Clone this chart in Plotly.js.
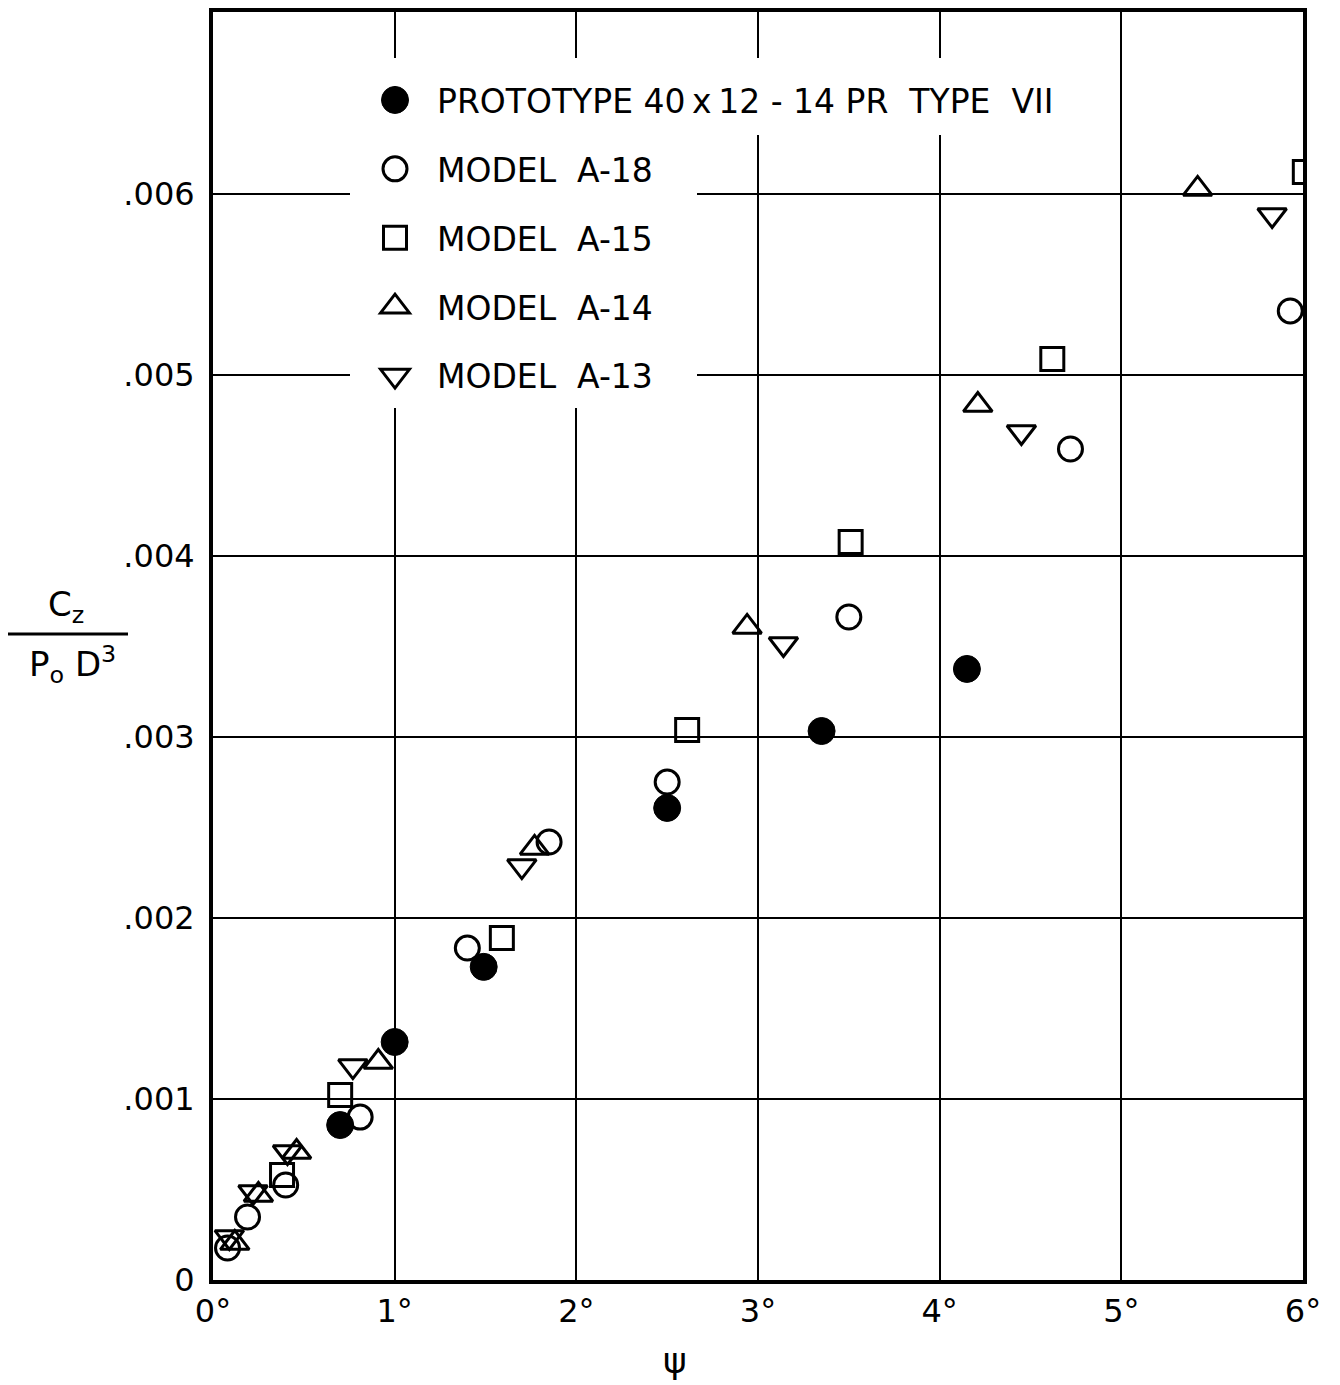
<!DOCTYPE html>
<html>
<head>
<meta charset="utf-8">
<script src="https://cdn.plot.ly/plotly-3.0.1.min.js"></script>
<style>html,body{margin:0;padding:0;background:#fff;}#chart{width:1340px;height:1385px;}</style>
</head>
<body>
<div id="chart"></div>
<script>
// ψ (degrees) and Cz/(Po D^3)
var protoX = [0.70, 1.00, 1.49, 2.50, 3.35, 4.15];
var protoY = [0.000856, 0.001315, 0.001730, 0.002608, 0.003033, 0.003376];

var a18X = [0.08, 0.19, 0.40, 0.81, 1.40, 1.85, 2.50, 3.50, 4.72, 5.93];
var a18Y = [0.000177, 0.000348, 0.000525, 0.000900, 0.001834, 0.002420, 0.002751, 0.003663, 0.004591, 0.005354];

var a15X = [0.38, 0.70, 1.59, 2.61, 3.51, 4.62, 6.01];
var a15Y = [0.000580, 0.001022, 0.001890, 0.003039, 0.004077, 0.005088, 0.006122];

var a14X = [0.12, 0.25, 0.46, 0.91, 1.77, 2.94, 4.21, 5.42];
var a14Y = [0.000204, 0.000470, 0.000707, 0.001204, 0.002387, 0.003608, 0.004834, 0.006028];

var a13X = [0.09, 0.22, 0.41, 0.77, 1.70, 3.14, 4.45, 5.83];
var a13Y = [0.000238, 0.000486, 0.000707, 0.001182, 0.002287, 0.003514, 0.004685, 0.005884];

var seriesNames = ['PROTOTYPE 40\u2009x\u200912 - 14 PR  TYPE  VII', 'MODEL  A-18', 'MODEL  A-15', 'MODEL  A-14', 'MODEL  A-13'];

var xTickVals = [0, 1, 2, 3, 4, 5, 6];
var xTickText = ['0\u00b0', '1\u00b0', '2\u00b0', '3\u00b0', '4\u00b0', '5\u00b0', '6\u00b0'];
var yTickVals = [0, 0.001, 0.002, 0.003, 0.004, 0.005, 0.006];
var yTickText = ['0', '.001', '.002', '.003', '.004', '.005', '.006'];

var FONT = 'DejaVu Sans, Liberation Sans, sans-serif';

function openTrace(x, y, name, symbol, size, group) {
  return {
    type: 'scatter', mode: 'markers', x: x, y: y, name: name, legendgroup: group,
    marker: {symbol: symbol, size: size, color: '#000', line: {color: '#000', width: 3}},
    hoverinfo: 'x+y+name'
  };
}

var traces = [
  {type: 'scatter', mode: 'markers', x: protoX, y: protoY, name: seriesNames[0], legendgroup: 'g0',
   marker: {symbol: 'circle', size: 27, color: '#000', line: {color: '#000', width: 1}}},
  openTrace(a18X, a18Y, seriesNames[1], 'circle-open', 24, 'g1'),
  openTrace(a15X, a15Y, seriesNames[2], 'square-open', 23, 'g2'),
  openTrace(a14X, a14Y, seriesNames[3], 'triangle-up-open', 25, 'g3'),
  openTrace(a13X, a13Y, seriesNames[4], 'triangle-down-open', 25, 'g4')
];

var L = 213, R = 1303, T = 12, B = 1280, W = 1340, H = 1385;
function px(x){ return (x - L) / (R - L); }
function py(y){ return (B - y) / (B - T); }

var layout = {
  width: W, height: H,
  margin: {l: L, r: W - R, t: T, b: H - B, pad: 0},
  paper_bgcolor: '#fff', plot_bgcolor: '#fff',
  font: {family: FONT, color: '#000', size: 33},
  showlegend: true,
  legend: {
    x: px(353), y: py(72), xanchor: 'left', yanchor: 'top',
    bgcolor: 'rgba(0,0,0,0)', borderwidth: 0,
    font: {family: FONT, size: 33, color: '#000'},
    tracegroupgap: 23, itemwidth: 74, traceorder: 'grouped'
  },
  xaxis: {
    range: [0, 6], tickvals: xTickVals, ticktext: xTickText,
    showgrid: true, gridcolor: '#000', gridwidth: 2,
    zeroline: false, showline: true, linecolor: '#000', linewidth: 4, mirror: true,
    ticks: '', ticklabelstandoff: 0,
    tickfont: {family: FONT, size: 32, color: '#000'}
  },
  yaxis: {
    range: [0, (B - T) / 181 * 0.001], tickvals: yTickVals, ticktext: yTickText,
    showgrid: true, gridcolor: '#000', gridwidth: 2,
    zeroline: false, showline: true, linecolor: '#000', linewidth: 4, mirror: true,
    ticks: '', ticklabelstandoff: 8,
    tickfont: {family: FONT, size: 32, color: '#000'}
  },
  shapes: [
    {type: 'rect', xref: 'paper', yref: 'paper', layer: 'above',
     x0: px(372), x1: px(1075), y0: py(135), y1: py(58),
     fillcolor: '#fff', line: {width: 0}},
    {type: 'rect', xref: 'paper', yref: 'paper', layer: 'above',
     x0: px(350), x1: px(697), y0: py(408), y1: py(134),
     fillcolor: '#fff', line: {width: 0}},
    {type: 'line', xref: 'paper', yref: 'paper',
     x0: px(8), x1: px(128), y0: py(634), y1: py(634),
     line: {color: '#000', width: 3}}
  ],
  annotations: [
    {xref: 'paper', yref: 'paper', x: px(66), y: py(606), xanchor: 'center', yanchor: 'middle', showarrow: false,
     text: 'C<sub>z</sub>', font: {family: FONT, size: 34, color: '#000'}},
    {xref: 'paper', yref: 'paper', x: px(72), y: py(664), xanchor: 'center', yanchor: 'middle', showarrow: false,
     text: 'P<sub>o</sub> D<sup>3</sup>', font: {family: FONT, size: 34, color: '#000'}},
    {xref: 'paper', yref: 'paper', x: px(675), y: py(1360), xanchor: 'center', yanchor: 'middle', showarrow: false,
     text: '\u03c8', font: {family: FONT, size: 36, color: '#000'}}
  ]
};

Plotly.newPlot('chart', traces, layout, {displayModeBar: false, staticPlot: true}).then(function(gd){
  // Plotly caps legend symbols at 16px; enlarge them to match the plotted marker sizes
  var items = gd.querySelectorAll('.legend .traces');
  items.forEach(function(item, i){
    var tr = traces[i];
    if(!tr) return;
    var s = tr.marker.size / 16;
    item.querySelectorAll('path.scatterpts').forEach(function(p){
      var t = p.getAttribute('transform') || '';
      p.setAttribute('transform', t + ' scale(' + s + ')');
      var lw = tr.marker.line.width;
      p.style.strokeWidth = (lw / s) + 'px';
    });
  });
});
</script>
</body>
</html>
